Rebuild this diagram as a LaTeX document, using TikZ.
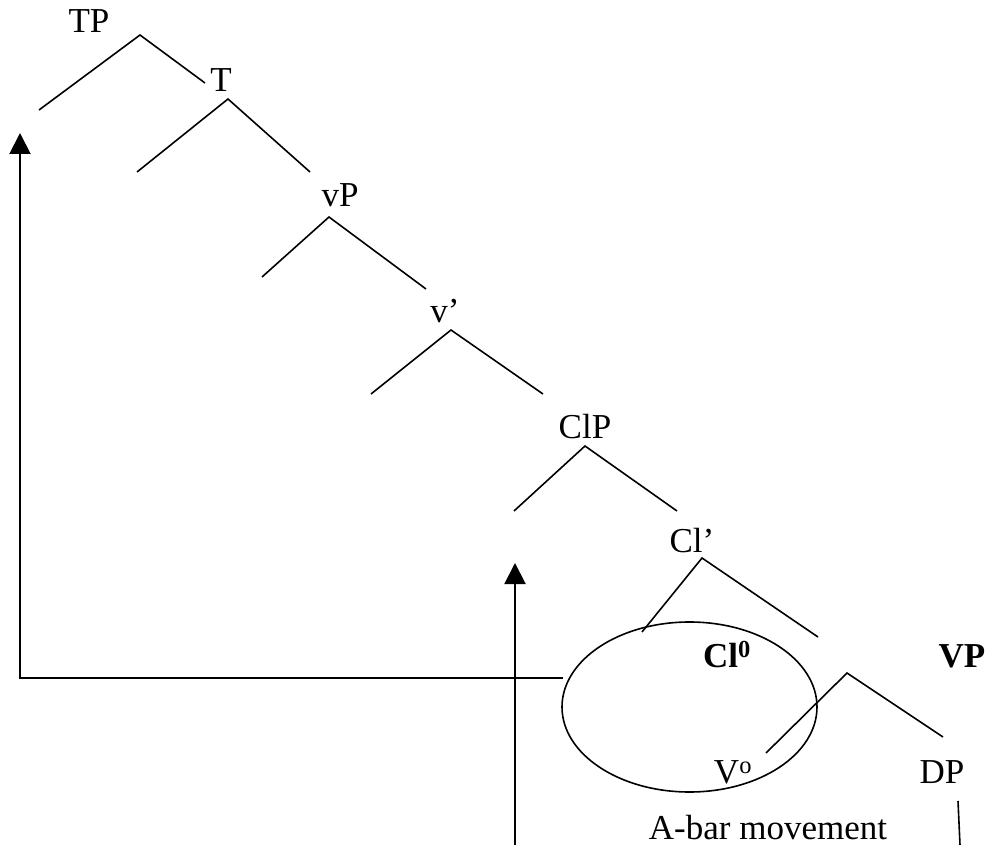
\documentclass[tikz,border=0pt]{standalone}
\usepackage{fontspec}
\setmainfont{Liberation Serif}
\usetikzlibrary{arrows.meta,shapes.geometric}
\begin{document}
\begin{tikzpicture}[x=1pt,y=-1pt,
  lbl/.style={anchor=base,inner sep=0pt,font=\fontsize{35}{38}\selectfont},
  blbl/.style={lbl,font=\fontsize{35}{38}\selectfont\bfseries},
  branch/.style={line width=1.6pt},
  mover/.style={line width=2pt},
  tip/.style={-{Triangle[length=21pt,width=21pt]}}]
\useasboundingbox (0,0) rectangle (988,845);
% labels
\node[lbl] (TP) at (89,33) {TP};
\node[lbl] (T) at (221,92) {T};
\node[lbl] (vP) at (340,207) {vP};
\node[lbl] (vbar) at (445,322) {v’};
\node[lbl] (ClP) at (585,438) {ClP};
\node[lbl] (Clbar) at (692,552) {Cl’};
\node[blbl] (Cl0) at (727,667) {Cl\textsuperscript{0}};
\node[blbl] (VP) at (962,667) {VP};
\node[lbl] (V0) at (733,783) {V\textsuperscript{o}};
\node[lbl] (DP) at (942,783) {DP};
\node[lbl] (abar) at (768,839) {A-bar movement};
% tree coordinates
\coordinate (tpA) at (140,35); \coordinate (tpL) at (39,110); \coordinate (tpR) at (205,83);
\coordinate (tA) at (228,99); \coordinate (tL) at (137,172); \coordinate (tR) at (310,172);
\coordinate (vpA) at (329,217); \coordinate (vpL) at (262,277); \coordinate (vpR) at (426,289);
\coordinate (vbA) at (451,330); \coordinate (vbL) at (371,394); \coordinate (vbR) at (543,394);
\coordinate (clpA) at (585,446); \coordinate (clpL) at (514,511); \coordinate (clpR) at (677,511);
\coordinate (clbA) at (702,558); \coordinate (clbL) at (642,632); \coordinate (clbR) at (818,637);
\coordinate (VPA) at (847,673); \coordinate (VPL) at (766,753); \coordinate (VPR) at (943,737);
\coordinate (dpT) at (958,801); \coordinate (dpB) at (960,845);
\foreach \n in {tp,t,vp,vb,clp,clb,VP}{
  \draw[branch] (\n L) -- (\n A) -- (\n R);
}
\draw[branch] (dpT) -- (dpB);
% ellipse
\node[draw,ellipse,line width=1.6pt,minimum width=255pt,minimum height=170pt,inner sep=0pt] (ell) at (689.5,707) {};
% movement arrows
\coordinate (hR) at (563,678);
\coordinate (hL) at (20,678);
\coordinate (topTip) at (20,133);
\coordinate (midB) at (515,845);
\coordinate (midTip) at (515,563);
\draw[mover,tip] (hR) -- (hL) -- (topTip);
\draw[mover,tip] (midB) -- (midTip);
\end{tikzpicture}
\end{document}
